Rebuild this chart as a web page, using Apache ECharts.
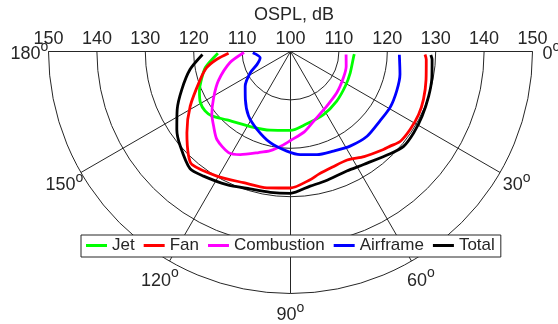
<!DOCTYPE html>
<html>
<head>
<meta charset="utf-8">
<script src="https://cdn.jsdelivr.net/npm/echarts@6/dist/echarts.min.js"></script>
<style>html,body{margin:0;padding:0;background:#fff;}#c{width:558px;height:324px;}</style>
</head>
<body>
<div id="c"></div>
<script>
// ---- data (angle in degrees, level in dB) ----
const seriesNames = ['Jet', 'Fan', 'Combustion', 'Airframe', 'Total'];
const jetAngle = [2.4, 4.3, 19.6, 32.4, 47, 62.4, 78.6, 90, 104.5, 118.2, 132.9, 140.7, 145.2, 150.5, 156.6, 161.6, 169.4, 178.7];
const jetDb    = [113.2, 113.1, 113.1, 113.4, 114.0, 114.7, 115.4, 116.3, 116.8, 117.6, 119.3, 121.0, 121.5, 121.4, 120.5, 119.5, 117.9, 115.0];
const fanAngle = [1.3, 3.4, 11.7, 19.8, 26.2, 33.1, 39.4, 43.5, 46.5, 55, 62.4, 70, 77, 81.3, 90, 99.8, 109.7, 120.6, 131, 134.7, 141.9, 151.4, 162.8, 169.2, 174, 178.4];
const fanDb    = [127.8, 128.1, 128.6, 129.2, 129.5, 129.5, 129.3, 128.4, 127.9, 126.5, 125.3, 125.4, 126.0, 126.8, 128.2, 128.6, 128.8, 129.9, 131.0, 130.0, 127.2, 123.6, 119.5, 117.6, 115.3, 112.8];
const combAngle = [3.1, 14.8, 26.4, 41.7, 58.4, 71.7, 80, 90, 95, 101.5, 107.5, 116, 121.5, 129.9, 136, 141.4, 149.1, 157.9, 169.7, 178.8];
const combDb    = [111.5, 111.9, 112.2, 112.8, 113.7, 115.2, 116.8, 118.4, 119.5, 120.9, 121.9, 123.7, 124.5, 123.7, 122.1, 120.8, 118.5, 116.1, 112.7, 109.6];
const airAngle = [1.7, 11.7, 20.3, 29.3, 37.8, 47.9, 57.8, 66.7, 75.6, 84.6, 92.1, 102.5, 113.3, 123, 133.3, 142.5, 152.1, 158.9, 168.3, 178];
const airDb    = [122.5, 123.1, 123.4, 123.6, 123.4, 123.6, 123.1, 122.4, 122.0, 121.4, 120.6, 119.3, 117.5, 115.9, 113.6, 111.8, 109.4, 107.4, 106.4, 107.8];
const totAngle = [1.4, 3.2, 10.4, 17.9, 26.2, 33.5, 40, 45.7, 57.1, 64.8, 75, 81.7, 90, 98.2, 106.4, 115.6, 124.9, 130.6, 139.4, 145.5, 152.9, 160.7, 169.8, 178];
const totDb    = [129.0, 129.3, 129.7, 130.0, 130.3, 130.5, 130.5, 129.5, 127.8, 127.3, 127.7, 128.1, 129.3, 129.4, 129.6, 130.5, 131.4, 131.9, 130.0, 128.5, 126.3, 123.8, 121.1, 118.2];
const radiusTicks = [100, 110, 120, 130, 140, 150];
const angleTicks = [0, 30, 60, 90, 120, 150, 180];
const axisTitle = 'OSPL, dB';

const colors = ['#00ff00', '#ff0000', '#ff00ff', '#0000ff', '#000000'];
const angleSets = [jetAngle, fanAngle, combAngle, airAngle, totAngle];
const dbSets = [jetDb, fanDb, combDb, airDb, totDb];

const FONT = "'Liberation Sans', Arial, Helvetica, sans-serif";
const TXT = '#262626';
const GRID = '#262626';

const chart = echarts.init(document.getElementById('c'), null, {renderer: 'canvas'});

const series = seriesNames.map((name, k) => ({
  name: name,
  type: 'line',
  coordinateSystem: 'polar',
  showSymbol: false,
  symbol: 'none',
  smooth: 0.25,
  lineStyle: {color: colors[k], width: 2.8},
  itemStyle: {color: colors[k]},
  z: 3 + k,
  data: angleSets[k].map((a, i) => [dbSets[k][i], a])
}));

chart.setOption({
  animation: false,
  backgroundColor: '#fff',
  polar: {center: [290.5, 51.5], radius: 242},
  angleAxis: {
    type: 'value', min: 0, max: 360, interval: 30, startAngle: 0, clockwise: true,
    axisLine: {show: false}, axisTick: {show: false}, axisLabel: {show: false},
    splitLine: {show: true, lineStyle: {color: GRID, width: 1}}
  },
  radiusAxis: {
    type: 'value', min: 100, max: 150, interval: 10,
    axisLine: {show: false}, axisTick: {show: false}, axisLabel: {show: false},
    splitLine: {show: true, lineStyle: {color: GRID, width: 1}}
  },
  legend: {
    data: seriesNames,
    left: 81, top: 235,
    orient: 'horizontal',
    icon: 'rect', itemWidth: 21, itemHeight: 3, itemGap: 9,
    padding: [2, 6, 3, 5],
    backgroundColor: '#fff',
    borderColor: TXT, borderWidth: 1, borderRadius: 0,
    textStyle: {fontFamily: FONT, fontSize: 17, color: TXT}
  },
  series: series
});

// ---- labels positioned through the polar coordinate system ----
function px(r, a) { return chart.convertToPixel({seriesIndex: 0}, [r, a]); }
const c0 = px(100, 0);
const graphics = [{
  type: 'rect', z: 50, silent: true,
  shape: {x: 0, y: 0, width: 558, height: c0[1] - 0.5},
  style: {fill: '#fff'}
}];
radiusTicks.forEach(v => {
  const sides = v === 100 ? [0] : [180, 0];
  sides.forEach(a => {
    const p = px(v, a);
    graphics.push({type: 'text', z: 60, x: p[0], y: p[1] - 12.5,
      style: {text: String(v), font: '18px ' + FONT, fill: TXT, align: 'center', verticalAlign: 'middle'}});
  });
});
graphics.push({type: 'text', z: 60, x: c0[0] + 3.5, y: 15,
  style: {text: axisTitle, font: '18px ' + FONT, fill: TXT, align: 'center', verticalAlign: 'middle'}});
const labelR = 100 + 261 / (242 / 50);
angleTicks.forEach(a => {
  const p = px(labelR, a);
  graphics.push({type: 'text', z: 60, x: p[0], y: p[1] + 3,
    style: {text: '{n|' + a + '}{s|o}', fill: TXT, align: 'center', verticalAlign: 'middle',
      rich: {
        n: {fontFamily: FONT, fontSize: 18, lineHeight: 28, fill: TXT, verticalAlign: 'middle'},
        s: {fontFamily: FONT, fontSize: 14, lineHeight: 14, fill: TXT, verticalAlign: 'top'}
      }}});
});
chart.setOption({graphic: graphics});
</script>
</body>
</html>
